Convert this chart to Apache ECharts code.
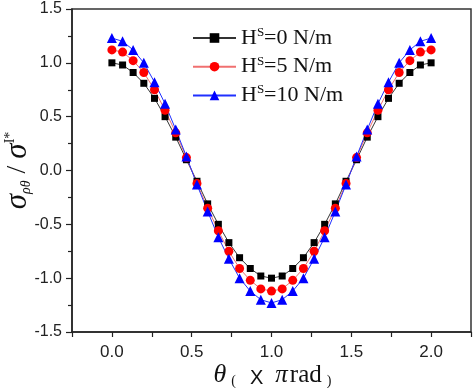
<!DOCTYPE html>
<html><head><meta charset="utf-8">
<script src="https://cdn.jsdelivr.net/npm/echarts@6/dist/echarts.min.js"></script>
<style>html,body{margin:0;padding:0;background:#fff}#c{width:474px;height:388px}</style>
</head><body><div id="c"></div>
<script>
const theta = [0, 0.067, 0.133, 0.2, 0.267, 0.333, 0.4, 0.467, 0.533, 0.6, 0.667, 0.733, 0.8, 0.867, 0.933, 1.0,
  1.067, 1.133, 1.2, 1.267, 1.333, 1.4, 1.467, 1.533, 1.6, 1.667, 1.733, 1.8, 1.867, 1.933, 2.0];
const hs0 = [1.00, 0.98, 0.91, 0.81, 0.67, 0.50, 0.31, 0.10, -0.10, -0.31, -0.50, -0.67, -0.81, -0.91, -0.98, -1.00,
  -0.98, -0.91, -0.81, -0.67, -0.50, -0.31, -0.10, 0.10, 0.31, 0.50, 0.67, 0.81, 0.91, 0.98, 1.00];
const hs5 = [1.12, 1.10, 1.02, 0.91, 0.75, 0.56, 0.35, 0.12, -0.12, -0.35, -0.56, -0.75, -0.91, -1.02, -1.10, -1.12,
  -1.10, -1.02, -0.91, -0.75, -0.56, -0.35, -0.12, 0.12, 0.35, 0.56, 0.75, 0.91, 1.02, 1.10, 1.12];
const hs10 = [1.23, 1.20, 1.12, 1.00, 0.82, 0.62, 0.38, 0.13, -0.13, -0.38, -0.62, -0.82, -1.00, -1.12, -1.20, -1.23,
  -1.20, -1.12, -1.00, -0.82, -0.62, -0.38, -0.13, 0.13, 0.38, 0.62, 0.82, 1.00, 1.12, 1.20, 1.23];
const seriesNames = ['H{sup|S}=0 N/m', 'H{sup|S}=5 N/m', 'H{sup|S}=10 N/m'];

const pair = (xs, ys) => xs.map((x, i) => [x, ys[i]]);
const fmt = v => {
  const h = v * 2;
  if (Math.abs(h - Math.round(h)) > 1e-6) return '';
  return v.toFixed(1);
};
const chart = echarts.init(document.getElementById('c'), null, {renderer: 'canvas'});
const serif = 'Liberation Serif';
chart.setOption({
  animation: false,
  backgroundColor: '#fff',
  grid: {left: 72, top: 9, right: 3, bottom: 56, outerBoundsMode: 'none', containLabel: false,
         show: true, borderColor: '#333', borderWidth: 1.5},
  legend: {
    orient: 'vertical', left: 192, top: 26, padding: 0, itemWidth: 43, itemHeight: 12, itemGap: 4.7,
    textStyle: {
      fontFamily: serif, fontSize: 22, color: '#111', lineHeight: 24,
      rich: {sup: {fontFamily: serif, fontSize: 13, verticalAlign: 'top', lineHeight: 13, color: '#111'}}
    }
  },
  xAxis: {
    type: 'value', min: -0.25, max: 2.25, interval: 0.25,
    axisLine: {onZero: false, lineStyle: {color: '#222', width: 1.5}},
    axisTick: {inside: false, length: 5, lineStyle: {color: '#222', width: 1.2}},
    splitLine: {show: false},
    axisLabel: {
      formatter: v => (v < -1e-6 || v > 2 + 1e-6) ? '' : fmt(v),
      fontFamily: 'Liberation Sans', fontSize: 17, color: '#222', margin: 12
    },
    name: '{t|θ}{p|(}{x|X}{pi|π}{r|rad}{p|)}',
    nameLocation: 'middle', nameGap: 28, nameMoveOverlap: false,
    nameTextStyle: {
      padding: [0, 0, 0, 8],
      rich: {
        t: {fontFamily: serif, fontStyle: 'italic', fontSize: 26, color: '#111', lineHeight: 28, verticalAlign: 'bottom'},
        p: {fontFamily: serif, fontSize: 14, color: '#111', verticalAlign: 'bottom', lineHeight: 14, padding: [0, 6, 0, 5]},
        x: {fontFamily: 'Liberation Sans', fontSize: 20, color: '#111', lineHeight: 23, verticalAlign: 'bottom', padding: [0, 12, 0, 8]},
        pi: {fontFamily: serif, fontStyle: 'italic', fontSize: 25, color: '#111', lineHeight: 26, verticalAlign: 'bottom'},
        r: {fontFamily: serif, fontSize: 25, color: '#111', lineHeight: 26, verticalAlign: 'bottom', padding: [0, 0, 0, 2]}
      }
    }
  },
  yAxis: {
    type: 'value', min: -1.5, max: 1.5, interval: 0.5,
    axisLine: {show: true, onZero: false, lineStyle: {color: '#222', width: 1.5}},
    axisTick: {show: true, inside: false, length: 6, lineStyle: {color: '#222', width: 1.2}},
    minorTick: {show: true, splitNumber: 2, length: 4, lineStyle: {color: '#222', width: 1.2}},
    splitLine: {show: false},
    axisLabel: {formatter: v => v.toFixed(1), fontFamily: 'Liberation Sans', fontSize: 16, color: '#222', margin: 10},
    name: '{s|σ}{sub|ρθ}{sl| / }{s|σ}{sup|I*}',
    nameLocation: 'middle', nameRotate: 90, nameGap: 39, nameMoveOverlap: false,
    nameTextStyle: {
      rich: {
        s: {fontFamily: serif, fontStyle: 'italic', fontSize: 31, color: '#111', lineHeight: 30},
        sub: {fontFamily: serif, fontStyle: 'italic', fontSize: 14, color: '#111', verticalAlign: 'bottom', lineHeight: 13},
        sl: {fontFamily: serif, fontSize: 28, color: '#111', lineHeight: 30},
        sup: {fontFamily: serif, fontSize: 14, color: '#111', verticalAlign: 'top', lineHeight: 13}
      }
    }
  },
  series: [
    {name: seriesNames[0], type: 'line', data: pair(theta, hs0), symbol: 'rect', symbolSize: 7,
     itemStyle: {color: '#000'}, lineStyle: {color: '#333', width: 1}},
    {name: seriesNames[1], type: 'line', data: pair(theta, hs5), symbol: 'circle', symbolSize: 9,
     itemStyle: {color: '#f00'}, lineStyle: {color: '#f07070', width: 1}},
    {name: seriesNames[2], type: 'line', data: pair(theta, hs10), symbol: 'triangle', symbolSize: 10,
     itemStyle: {color: '#0000ff'}, lineStyle: {color: '#2030ff', width: 1}}
  ]
});
</script></body></html>
